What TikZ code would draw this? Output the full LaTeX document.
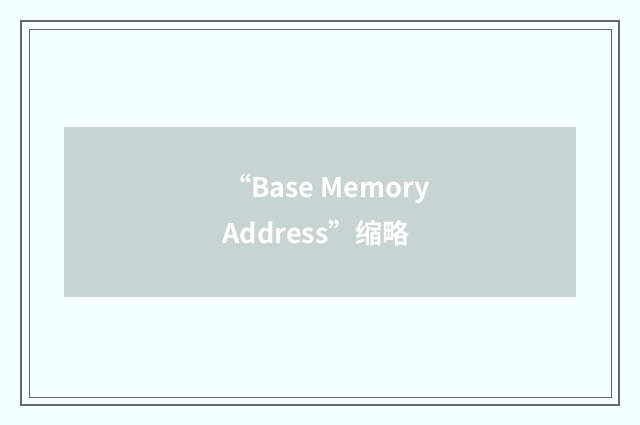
\documentclass[tikz,border=0pt]{standalone}
\usepackage{fontspec}
\newfontfamily\cjk{Noto Sans CJK SC Bold}
\definecolor{pagebg}{HTML}{F4FFFF}
\definecolor{frameline}{HTML}{5E6C6C}
\definecolor{boxgray}{HTML}{C8D4D3}
\begin{document}
\begin{tikzpicture}[x=1pt,y=-1pt]
  \tikzset{frame/.style={draw=frameline,line width=1.2pt},
    captext/.style={text=white,font=\cjk\fontsize{27}{44}\selectfont,inner sep=0pt}}
  \fill[pagebg] (0,0) rectangle (640,425);
  \useasboundingbox (0,0) rectangle (640,425);
  \draw[frame] (21,21) rectangle (619,405);
  \draw[frame,line width=0.8pt] (29,29) rectangle (611,397);
  \node[fill=boxgray,minimum width=512pt,minimum height=170pt,inner sep=0pt] (banner) at (320,212) {};
  \node[captext] (line1) at (327,189) {“Base Memory};
  \node[captext] (line2) at (316,233) {Address”缩略};
\end{tikzpicture}
\end{document}
